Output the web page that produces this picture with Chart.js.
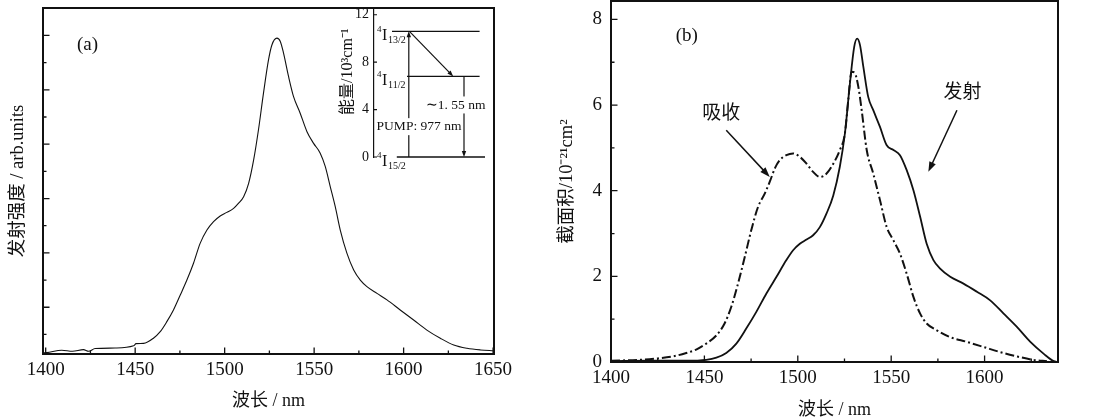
<!DOCTYPE html>
<html>
<head>
<meta charset="utf-8">
<title>Er emission and cross sections</title>
<script src="https://cdn.jsdelivr.net/npm/chart.js@4.4.1/dist/chart.umd.min.js"></script>
<style>
  html, body { margin: 0; padding: 0; background: #fff; overflow: hidden; }
  body { width: 1093px; height: 420px; position: relative; }
  canvas { position: absolute; top: 0; }
  #chartA { left: 0; }
  #chartInset { left: 330px; }
  #chartB { left: 545px; }
</style>
</head>
<body>
<canvas id="chartA" width="545" height="420"></canvas>
<canvas id="chartInset" width="164" height="180"></canvas>
<canvas id="chartB" width="548" height="426"></canvas>
<script>
const SERIF = '"Liberation Serif", "Noto Sans CJK SC", serif';
const INK = '#111';

// (a) emission spectrum, arb. units (1 unit = one minor tick step)
const waveA = [1398.5, 1400.6, 1409, 1415, 1421.1, 1424, 1427.6, 1438.8, 1449.1, 1450.5,
  1454.7, 1460.2, 1464, 1467.7, 1471.4, 1475.2, 1478.9, 1482.6, 1486.3, 1490.1,
  1493.8, 1497.5, 1501.2, 1505, 1507.8, 1510.6, 1513.4, 1516.2, 1518.9, 1521.7,
  1524.5, 1526.4, 1529.2, 1531.1, 1532.9, 1535.7, 1538.5, 1542.2, 1546, 1549.7,
  1553.4, 1556.2, 1559, 1561.8, 1564.6, 1568.3, 1572.1, 1575.8, 1579.5, 1585.1,
  1590.7, 1598.1, 1605.6, 1613, 1620.5, 1628, 1635.4, 1642.9, 1650.5];
const intensityA = [0.04, 0.05, 0.14, 0.1, 0.16, 0.1, 0.2, 0.22, 0.3, 0.38,
  0.39, 0.58, 0.82, 1.19, 1.62, 2.17, 2.72, 3.34, 4.07, 4.56,
  4.87, 5.08, 5.21, 5.36, 5.55, 5.79, 6.28, 7.14, 8.25, 9.6,
  10.82, 11.37, 11.62, 11.5, 11.07, 10.21, 9.47, 8.86, 8.18, 7.75,
  7.39, 6.9, 6.16, 5.42, 4.56, 3.71, 3.09, 2.72, 2.48, 2.23,
  1.99, 1.62, 1.25, 0.88, 0.58, 0.33, 0.21, 0.15, 0.12];
const xMajorA = [1400, 1450, 1500, 1550, 1600, 1650];
const xMinorA = [1425, 1475, 1525, 1575, 1625];
const yMajorA = [1.72, 3.72, 5.72, 7.72, 9.72, 11.72];
const yMinorA = [0.72, 2.72, 4.72, 6.72, 8.72, 10.72];

// inset: energy levels, 10^3 cm^-1
const levelSub = ['15/2', '11/2', '13/2'];
const levelEnergy = [0, 6.8, 10.6];
const levelStart = [1.9, 2.75, 1.5];
const levelEnd = [9.25, 8.8, 8.8];
const insetTicks = [0, 4, 8, 12];
const pumpX = 2.9, relaxEndX = 6.6, emitX = 7.5;

// (b) cross sections, 10^-21 cm^2
const absWave = [1400, 1415.2, 1424.2, 1433.1, 1440.3, 1445.6, 1451, 1456.4, 1460.8, 1464.4,
  1468, 1471.6, 1475.1, 1478.7, 1482.3, 1485, 1487.7, 1490.3, 1493.9, 1497.5,
  1501.1, 1504.7, 1508.2, 1511.8, 1515.4, 1519, 1522.5, 1525.2, 1527, 1528.8,
  1530.6, 1532.4, 1534.2, 1536.9, 1540.4, 1544, 1547.6, 1551.2, 1554.7, 1558.3,
  1561.9, 1565.5, 1569, 1574.4, 1581.6, 1590.5, 1599.5, 1608.4, 1617.3, 1626.2, 1633.4];
const absSigma = [0.03, 0.05, 0.08, 0.13, 0.21, 0.29, 0.43, 0.62, 0.9, 1.29,
  1.83, 2.45, 3.08, 3.62, 3.93, 4.21, 4.52, 4.71, 4.83, 4.87,
  4.79, 4.63, 4.44, 4.32, 4.4, 4.63, 4.95, 5.33, 6.11, 6.78,
  6.74, 6.43, 5.88, 4.95, 4.4, 3.78, 3.15, 2.84, 2.53, 2.06,
  1.52, 1.13, 0.9, 0.74, 0.58, 0.47, 0.35, 0.23, 0.13, 0.05, 0.02];
const emiWave = [1400, 1420, 1440, 1451, 1456.4, 1461.7, 1467.1, 1472.4, 1477.8, 1483.2,
  1488.6, 1493.9, 1497.5, 1501.1, 1504.7, 1508.2, 1511.8, 1515.4, 1519, 1522.5,
  1525.2, 1527.9, 1530.2, 1531.8, 1533.3, 1535.1, 1537.7, 1540.4, 1544, 1547.6,
  1551.2, 1554.7, 1558.3, 1561.9, 1565.5, 1569, 1572.6, 1576.2, 1581.6, 1588.7,
  1595.9, 1603, 1610.2, 1617.3, 1624.5, 1631.7, 1637, 1639.3];
const emiSigma = [0.02, 0.03, 0.03, 0.05, 0.1, 0.21, 0.43, 0.78, 1.17, 1.6,
  1.99, 2.38, 2.61, 2.76, 2.86, 2.96, 3.15, 3.47, 3.89, 4.56,
  5.33, 6.5, 7.36, 7.55, 7.4, 6.89, 6.19, 5.88, 5.49, 5.06,
  4.95, 4.83, 4.48, 4.01, 3.39, 2.76, 2.38, 2.18, 1.99, 1.83,
  1.64, 1.44, 1.13, 0.82, 0.47, 0.19, 0.02, 0];
const xMajorB = [1400, 1450, 1500, 1550, 1600];
const xMinorB = [1425, 1475, 1525, 1575, 1625];
const yMajorB = [0, 2, 4, 6, 8];
const yMinorB = [1, 3, 5, 7];

// text notes in (b): label, x, y ; arrows: from -> to
const notesB = [['(b)', 1440.6, 7.62], ['吸收', 1459, 5.8], ['发射', 1588.2, 6.27]];
const arrowsB = [[1461.7, 5.41, 1485, 4.32], [1585.2, 5.88, 1569.9, 4.44]];

function pts(xs, ys) {
  return xs.map((x, i) => ({ x: x, y: ys[i] }));
}

function arrow(ctx, x1, y1, x2, y2, head, half) {
  const a = Math.atan2(y2 - y1, x2 - x1), c = Math.cos(a), s = Math.sin(a);
  ctx.beginPath();
  ctx.moveTo(x1, y1);
  ctx.lineTo(x2 - c * head * 0.7, y2 - s * head * 0.7);
  ctx.stroke();
  ctx.beginPath();
  ctx.moveTo(x2, y2);
  ctx.lineTo(x2 - head * c + half * s, y2 - head * s - half * c);
  ctx.lineTo(x2 - head * c - half * s, y2 - head * s + half * c);
  ctx.closePath();
  ctx.fill();
}

// y axes: fixed width, no extra room for the end labels
function fixY(width) {
  return s => { s.width = width; s.paddingTop = 0; s.paddingBottom = 0; };
}

// box round the plot with inward ticks
const frame = {
  id: 'frame',
  afterDatasetsDraw(chart, args, o) {
    const { ctx, chartArea: a, scales: { x, y } } = chart;
    ctx.save();
    ctx.strokeStyle = INK;
    ctx.lineWidth = 1.3;
    ctx.beginPath();
    const tick = (vals, len, horiz) => vals.forEach(v => {
      if (horiz) {
        const p = x.getPixelForValue(v);
        ctx.moveTo(p, a.bottom); ctx.lineTo(p, a.bottom - len);
      } else {
        const p = y.getPixelForValue(v);
        ctx.moveTo(a.left, p); ctx.lineTo(a.left + len, p);
      }
    });
    tick(o.xMajor, 6.5, true);
    tick(o.xMinor, 3.5, true);
    tick(o.yMajor, 6.5, false);
    tick(o.yMinor, 3.5, false);
    ctx.stroke();
    ctx.lineWidth = 2;
    ctx.strokeRect(a.left, a.top, a.right - a.left, a.bottom - a.top);
    ctx.restore();
  }
};

const notes = {
  id: 'notes',
  afterDatasetsDraw(chart, args, o) {
    const { ctx, scales: { x, y } } = chart;
    ctx.save();
    ctx.fillStyle = INK;
    ctx.strokeStyle = INK;
    ctx.lineWidth = 1.5;
    ctx.textAlign = 'center';
    ctx.textBaseline = 'middle';
    ctx.font = '19px ' + SERIF;
    o.items.forEach(n => ctx.fillText(n[0], x.getPixelForValue(n[1]), y.getPixelForValue(n[2])));
    o.arrows.forEach(r => arrow(ctx, x.getPixelForValue(r[0]), y.getPixelForValue(r[1]),
      x.getPixelForValue(r[2]), y.getPixelForValue(r[3]), 10, 3.5));
    ctx.restore();
  }
};

function xScale(min, max, major, pad, height, titlePad) {
  return {
    type: 'linear', min: min, max: max,
    afterBuildTicks: s => { s.ticks = major.map(v => ({ value: v })); },
    afterFit: s => { s.height = height; },
    grid: { display: false, drawTicks: false },
    border: { display: false },
    ticks: { color: INK, padding: pad, autoSkip: false, maxRotation: 0,
      font: { family: SERIF, size: 19 }, callback: v => String(v) },
    title: { display: true, text: '波长 / nm', color: INK,
      font: { family: SERIF, size: 18 }, padding: { top: 0, bottom: titlePad } }
  };
}

// ---------- (a) ----------
new Chart(document.getElementById('chartA'), {
  type: 'line',
  data: {
    datasets: [{ data: pts(waveA, intensityA), borderColor: INK, borderWidth: 1.1,
      pointRadius: 0, fill: false, cubicInterpolationMode: 'monotone' }]
  },
  options: {
    responsive: false, animation: false, devicePixelRatio: 1,
    layout: { padding: { top: 8, right: 51, bottom: 0, left: 0 } },
    plugins: {
      legend: { display: false }, tooltip: { enabled: false },
      frame: { xMajor: xMajorA, xMinor: xMinorA, yMajor: yMajorA, yMinor: yMinorA },
      notes: { items: [['(a)', 1423.4, 11.37]], arrows: [] }
    },
    scales: {
      x: xScale(1398.5, 1650.5, xMajorA, 5, 66, 8),
      y: {
        min: 0, max: 12.73,
        afterFit: fixY(43),
        grid: { display: false, drawTicks: false },
        border: { display: false },
        ticks: { display: false },
        title: { display: true, text: '发射强度 / arb.units', color: INK,
          font: { family: SERIF, size: 18.5 }, padding: { top: 7, bottom: 0 } }
      }
    }
  },
  plugins: [frame, notes]
});

// ---------- inset: level scheme ----------
const insetDraw = {
  id: 'insetDraw',
  afterDatasetsDraw(chart) {
    const { ctx, chartArea: a, scales: { x, y } } = chart;
    const px = v => x.getPixelForValue(v), py = v => y.getPixelForValue(v);
    ctx.save();
    ctx.strokeStyle = INK;
    ctx.fillStyle = INK;
    ctx.lineWidth = 1.2;
    ctx.beginPath();
    insetTicks.forEach(v => { ctx.moveTo(a.left, py(v)); ctx.lineTo(a.left + 3, py(v)); });
    ctx.stroke();
    arrow(ctx, px(pumpX), py(levelEnergy[0]), px(pumpX), py(levelEnergy[2]), 6, 2.2);
    arrow(ctx, px(pumpX + 0.05), py(levelEnergy[2]), px(relaxEndX), py(levelEnergy[1]), 6, 2.2);
    arrow(ctx, px(emitX), py(levelEnergy[1]), px(emitX), py(levelEnergy[0]), 6, 2.2);

    ctx.textBaseline = 'middle';
    ctx.textAlign = 'center';
    ctx.font = '13.5px ' + SERIF;
    [['PUMP: 977 nm', 3.75, 2.56], ['∼1. 55 nm', 6.8, 4.39]].forEach(t => {
      const w = ctx.measureText(t[0]).width;
      ctx.fillStyle = '#fff';
      ctx.fillRect(px(t[1]) - w / 2 - 1, py(t[2]) - 8.5, w + 2, 17);
      ctx.fillStyle = INK;
      ctx.fillText(t[0], px(t[1]), py(t[2]));
    });

    // level names 4I_J
    ctx.textAlign = 'left';
    ctx.textBaseline = 'alphabetic';
    levelEnergy.forEach((e, i) => {
      const lx = px(0.25), ly = py(e) + 9;
      ctx.font = '9px ' + SERIF;
      ctx.fillText('4', lx, ly - 8);
      ctx.font = '16px ' + SERIF;
      ctx.fillText('I', lx + 5, ly);
      ctx.font = '10px ' + SERIF;
      ctx.fillText(levelSub[i], lx + 11, ly + 3);
    });

    // energy axis title
    ctx.translate(18, py(7.2));
    ctx.rotate(-Math.PI / 2);
    ctx.textAlign = 'center';
    ctx.textBaseline = 'middle';
    ctx.font = '16px ' + SERIF;
    ctx.fillText('能量/10³cm⁻¹', 0, 0);
    ctx.restore();
  }
};

new Chart(document.getElementById('chartInset'), {
  type: 'line',
  data: {
    datasets: levelEnergy.map((e, i) => ({
      data: [{ x: levelStart[i], y: e }, { x: levelEnd[i], y: e }],
      borderColor: INK, borderWidth: 1.3, pointRadius: 0, clip: false
    }))
  },
  options: {
    responsive: false, animation: false, devicePixelRatio: 1,
    layout: { padding: { top: 10, right: 0, bottom: 23, left: 0 } },
    plugins: { legend: { display: false }, tooltip: { enabled: false } },
    scales: {
      x: { type: 'linear', display: false, min: 0, max: 10 },
      y: {
        min: 0, max: 12.4,
        afterBuildTicks: s => { s.ticks = insetTicks.map(v => ({ value: v })); },
        afterFit: fixY(44),
        grid: { display: false, drawTicks: false },
        border: { display: true, color: INK, width: 1.2 },
        ticks: { color: INK, padding: 5, font: { family: SERIF, size: 14 } }
      }
    }
  },
  plugins: [insetDraw]
});

// ---------- (b) ----------
new Chart(document.getElementById('chartB'), {
  type: 'line',
  data: {
    datasets: [
      { label: '吸收', data: pts(absWave, absSigma), borderColor: INK, borderWidth: 2,
        borderDash: [9, 3, 2, 3], pointRadius: 0, fill: false, cubicInterpolationMode: 'monotone' },
      { label: '发射', data: pts(emiWave, emiSigma), borderColor: INK, borderWidth: 1.8,
        pointRadius: 0, fill: false, cubicInterpolationMode: 'monotone' }
    ]
  },
  options: {
    responsive: false, animation: false, devicePixelRatio: 1,
    layout: { padding: { top: 1, right: 35, bottom: 0, left: 0 } },
    plugins: {
      legend: { display: false }, tooltip: { enabled: false },
      frame: { xMajor: xMajorB, xMinor: xMinorB, yMajor: yMajorB, yMinor: yMinorB },
      notes: { items: notesB, arrows: arrowsB }
    },
    scales: {
      x: xScale(1400, 1639.3, xMajorB, 5, 64, 4.7),
      y: {
        min: 0, max: 8.43,
        afterBuildTicks: s => { s.ticks = yMajorB.map(v => ({ value: v })); },
        afterFit: fixY(66),
        grid: { display: false, drawTicks: false },
        border: { display: false },
        ticks: { color: INK, padding: 9, font: { family: SERIF, size: 19 } },
        title: { display: true, text: '截面积/10⁻²¹cm²', color: INK,
          font: { family: SERIF, size: 18.5 }, padding: { top: 11, bottom: 0 } }
      }
    }
  },
  plugins: [frame, notes]
});
</script>
</body>
</html>
